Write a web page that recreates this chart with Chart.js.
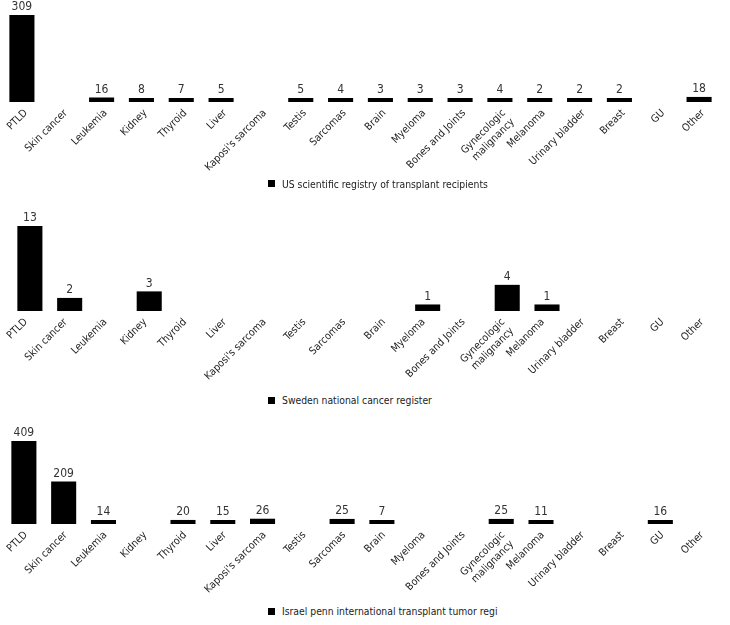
<!DOCTYPE html>
<html>
<head>
<meta charset="utf-8">
<script src="https://cdn.jsdelivr.net/npm/chart.js@4/dist/chart.umd.min.js"></script>
<style>
  body { margin: 0; background: #fff; width: 730px; height: 625px; position: relative; overflow: hidden;
         font-family: 'DejaVu Sans Condensed', 'DejaVu Sans', sans-serif; }
  .painel { position: absolute; left: 0; width: 730px; height: 180px; }
  .legenda { position: absolute; left: 268px; display: flex; align-items: center; gap: 7px;
             font-size: 10.3px; line-height: 12px; color: #222; white-space: nowrap; }
  .legenda i { display: block; width: 7px; height: 7px; background: #000; }
</style>
</head>
<body>
<div class="painel" style="top:0px"><canvas id="grafico1"></canvas></div>
<div class="legenda" style="top:177.5px"><i></i><span id="leg1"></span></div>
<div class="painel" style="top:210px"><canvas id="grafico2"></canvas></div>
<div class="legenda" style="top:394px"><i></i><span id="leg2"></span></div>
<div class="painel" style="top:420px"><canvas id="grafico3"></canvas></div>
<div class="legenda" style="top:605px"><i></i><span id="leg3"></span></div>

<script>
// Categorias (iguais nos três painéis)
const categorias = ["PTLD", "Skin cancer", "Leukemia", "Kidney", "Thyroid", "Liver", "Kaposi's sarcoma",
  "Testis", "Sarcomas", "Brain", "Myeloma", "Bones and Joints", ["Gynecologic", "malignancy"],
  "Melanoma", "Urinary bladder", "Breast", "GU", "Other"];

// Valores de cada registro (null = sem barra)
const valoresEUA = [309, null, 16, 8, 7, 5, null, 5, 4, 3, 3, 3, 4, 2, 2, 2, null, 18];
const valoresSuecia = [13, 2, null, 3, null, null, null, null, null, null, 1, null, 4, 1, null, null, null, null];
const valoresIsrael = [409, 209, 14, null, 20, 15, 26, null, 25, 7, null, null, 25, 11, null, null, 16, null];

const nomesSeries = [
  "US scientific registry of transplant recipients",
  "Sweden national cancer register",
  "Israel penn international transplant tumor regi"
];

const FONTE = "'DejaVu Sans Condensed', 'DejaVu Sans', sans-serif";
Chart.defaults.font.family = FONTE;
Chart.defaults.color = "#222";

// Rótulos com os valores acima das barras
const rotulosValores = {
  id: "rotulosValores",
  afterDatasetsDraw(chart) {
    const ctx = chart.ctx;
    const meta = chart.getDatasetMeta(0);
    const dados = chart.data.datasets[0].data;
    ctx.save();
    ctx.font = "12px " + FONTE;
    ctx.fillStyle = "#333";
    ctx.textAlign = "center";
    ctx.textBaseline = "bottom";
    meta.data.forEach((barra, i) => {
      if (dados[i] == null) return;
      ctx.fillText(String(dados[i]), barra.x, barra.y - 2);
    });
    ctx.restore();
  }
};

function criarGrafico(id, valores, padding, alturaEixo, deslocRotulo) {
  return new Chart(document.getElementById(id), {
    type: "bar",
    data: {
      labels: categorias,
      datasets: [{
        data: valores,
        backgroundColor: "#000",
        borderColor: "#000",
        borderWidth: 0,
        minBarLength: 4,
        barPercentage: 0.63,
        categoryPercentage: 1
      }]
    },
    options: {
      responsive: true,
      maintainAspectRatio: false,
      animation: false,
      layout: { padding },
      plugins: { legend: { display: false }, tooltip: { enabled: false } },
      scales: {
        x: {
          grid: { display: false },
          border: { display: false },
          ticks: { minRotation: 45, maxRotation: 45, autoSkip: false, padding: -3,
                    labelOffset: deslocRotulo, font: { size: 10.5 }, color: "#222" },
          afterFit(scale) {
            scale.height = alturaEixo;
            scale.paddingLeft = 0;
            scale.paddingRight = 0;
          }
        },
        y: {
          display: false,
          min: 0,
          max: Math.max(...valores.filter(v => v != null))
        }
      }
    },
    plugins: [rotulosValores]
  });
}

criarGrafico("grafico1", valoresEUA, { top: 15, left: 2, right: 11, bottom: 0 }, 78, 4);
criarGrafico("grafico2", valoresSuecia, { top: 16, left: 10, right: 4, bottom: 0 }, 79, -4);
criarGrafico("grafico3", valoresIsrael, { top: 21, left: 4, right: 10, bottom: 0 }, 76, 2);

document.getElementById("leg1").textContent = nomesSeries[0];
document.getElementById("leg2").textContent = nomesSeries[1];
document.getElementById("leg3").textContent = nomesSeries[2];
</script>
</body>
</html>
